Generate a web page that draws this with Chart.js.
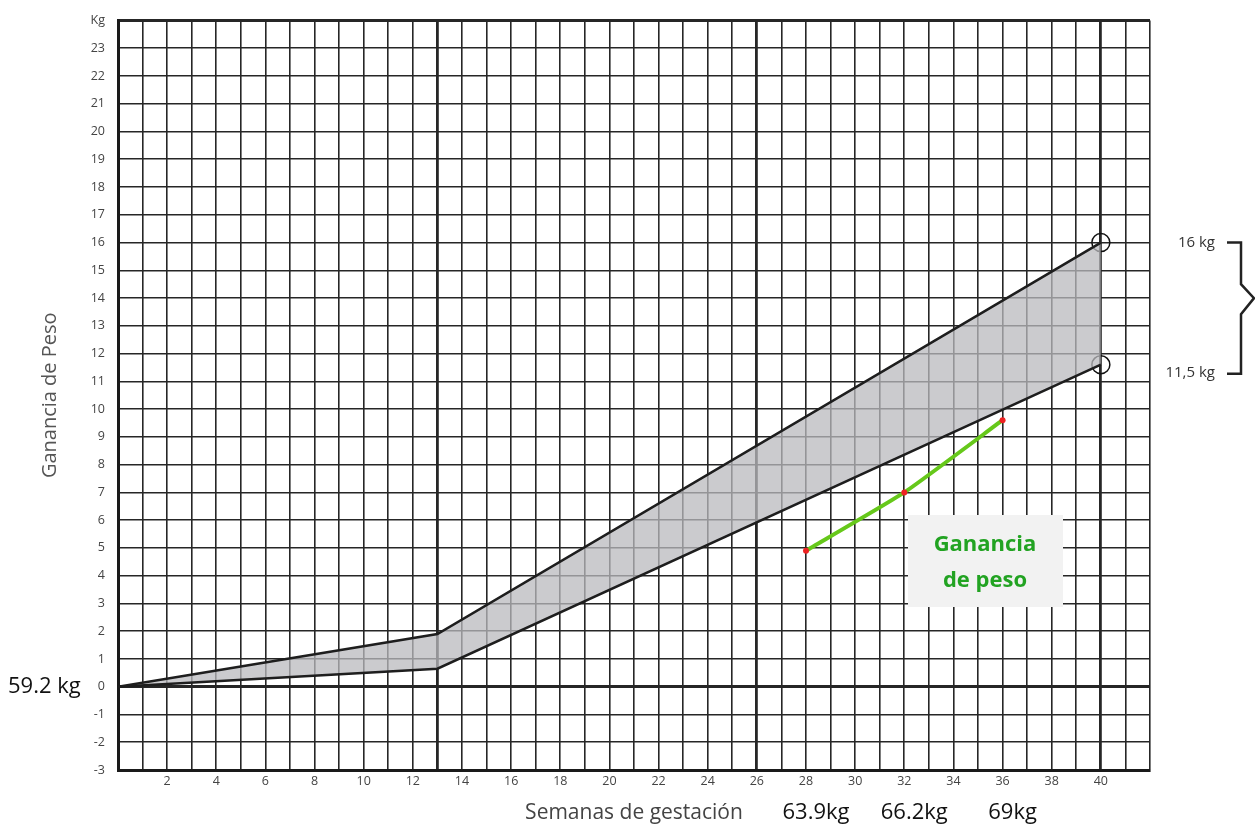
<!DOCTYPE html>
<html>
<head>
<meta charset="utf-8">
<script src="https://cdn.jsdelivr.net/npm/chart.js@4.4.1/dist/chart.umd.min.js"></script>
<style>
  html, body { margin: 0; padding: 0; background: #fff; }
  #wrap { width: 1255px; height: 831px; }
</style>
</head>
<body>
<div id="wrap"><canvas id="c" width="1255" height="831"></canvas></div>
<script>
// ---- Data ----
const bandWeeks = [0, 13, 40];
const upperGain = [0, 1.9, 16];
const lowerGain = [0, 0.65, 11.6];
const limitWeeks = [40, 40];
const limitGain = [16, 11.6];
const limitLabels = ['16 kg', '11,5 kg'];
const measuredWeeks = [28, 32, 36];
const measuredGain = [4.9, 7.0, 9.6];
const measuredWeightLabels = ['63.9kg', '66.2kg', '69kg'];
const baseWeightLabel = '59.2 kg';
const xTitle = 'Semanas de gestación';
const yTitle = 'Ganancia de Peso';
const boxLines = ['Ganancia', 'de peso'];
const xMin = 0, xMax = 42, yMin = -3, yMax = 24;
const xThick = [13, 26, 40];
const yThick = [0, 24];

const toPts = (xs, ys) => xs.map((x, i) => ({ x: x, y: ys[i] }));

const extras = {
  id: 'extras',
  afterDatasetsDraw(chart) {
    const { ctx, scales: { x, y } } = chart;
    ctx.save();
    // base weight label
    ctx.fillStyle = '#111';
    ctx.font = '22px "Open Sans"';
    ctx.textAlign = 'left';
    ctx.textBaseline = 'middle';
    ctx.fillText(baseWeightLabel, 8, y.getPixelForValue(0));
    // measured weights under the x axis
    ctx.textAlign = 'center';
    measuredWeeks.forEach((w, i) => {
      ctx.fillText(measuredWeightLabels[i], x.getPixelForValue(w) + 10, 813);
    });
    // limit labels on the right
    ctx.fillStyle = '#333';
    ctx.font = '15px "Open Sans"';
    ctx.textAlign = 'right';
    limitGain.forEach((g, i) => {
      ctx.fillText(limitLabels[i], 1215, y.getPixelForValue(g) + (i === 1 ? 8 : 0));
    });
    // bracket
    const yt = y.getPixelForValue(limitGain[0]);
    const yb = y.getPixelForValue(limitGain[1]) + 9;
    const ym = (yt + yb) / 2 - 10;
    ctx.strokeStyle = '#222';
    ctx.lineWidth = 2.5;
    ctx.beginPath();
    ctx.moveTo(1227, yt);
    ctx.lineTo(1241, yt);
    ctx.lineTo(1241, ym - 14);
    ctx.lineTo(1254, ym);
    ctx.lineTo(1241, ym + 16);
    ctx.lineTo(1241, yb);
    ctx.lineTo(1227, yb);
    ctx.stroke();
    // annotation box
    ctx.fillStyle = '#f2f2f2';
    ctx.fillRect(908, 515, 155, 92);
    ctx.fillStyle = '#22a322';
    ctx.font = 'bold 22px "Open Sans"';
    ctx.textAlign = 'center';
    ctx.fillText(boxLines[0], 985, 545);
    ctx.fillText(boxLines[1], 985, 581);
    ctx.restore();
  }
};

new Chart(document.getElementById('c'), {
  type: 'line',
  data: {
    datasets: [
      {
        label: 'upper',
        data: toPts(bandWeeks, upperGain),
        borderColor: '#1e1e1e',
        borderWidth: 2.5,
        pointRadius: 0,
        fill: false,
        tension: 0
      },
      {
        label: 'lower',
        data: toPts(bandWeeks, lowerGain),
        borderColor: '#1e1e1e',
        borderWidth: 2.5,
        pointRadius: 0,
        backgroundColor: 'rgba(185,185,190,0.75)',
        fill: '-1',
        tension: 0
      },
      {
        label: 'limits',
        data: toPts(limitWeeks, limitGain),
        showLine: false,
        pointRadius: 9,
        pointBorderWidth: 1.5,
        pointBorderColor: '#111',
        pointBackgroundColor: 'rgba(0,0,0,0)'
      },
      {
        label: 'measured',
        data: toPts(measuredWeeks, measuredGain),
        borderColor: '#66c81a',
        borderWidth: 4,
        pointRadius: 3,
        pointBorderWidth: 0,
        pointBackgroundColor: '#ee2222',
        tension: 0.15,
        fill: false
      }
    ]
  },
  options: {
    responsive: false,
    animation: false,
    layout: { padding: { top: 16, right: 105, bottom: 0, left: 0 } },
    plugins: { legend: { display: false }, tooltip: { enabled: false } },
    scales: {
      x: {
        type: 'linear',
        min: xMin, max: xMax,
        afterFit(s) { s.height = 61; },
        border: { display: true, color: '#1a1a1a', width: 3 },
        grid: {
          drawTicks: false,
          color: '#262626',
          lineWidth: c => xThick.includes(c.tick.value) ? 2.8 : 1.6
        },
        ticks: {
          stepSize: 1,
          autoSkip: false,
          maxRotation: 0,
          padding: 4,
          color: '#444',
          font: { family: 'Open Sans', size: 12.5 },
          callback: v => (v % 2 === 0 && v > 0 && v <= 40) ? String(v) : ''
        },
        title: {
          display: true,
          text: xTitle,
          color: '#444',
          font: { family: 'Open Sans', size: 21 },
          padding: { top: 0, bottom: 5 }
        }
      },
      y: {
        type: 'linear',
        min: yMin, max: yMax,
        afterFit(s) { s.width = 118; },
        border: { display: true, color: '#1a1a1a', width: 3 },
        grid: {
          drawTicks: false,
          color: '#262626',
          lineWidth: c => yThick.includes(c.tick.value) ? 3 : 1.6
        },
        ticks: {
          stepSize: 1,
          autoSkip: false,
          padding: 13,
          color: '#444',
          font: { family: 'Open Sans', size: 12.5 },
          callback: v => v === 24 ? 'Kg' : String(v)
        },
        title: {
          display: true,
          text: yTitle,
          color: '#555',
          font: { family: 'Open Sans', size: 20 },
          padding: { top: 38, bottom: 0 }
        }
      }
    }
  },
  plugins: [extras]
});
</script>
</body>
</html>
